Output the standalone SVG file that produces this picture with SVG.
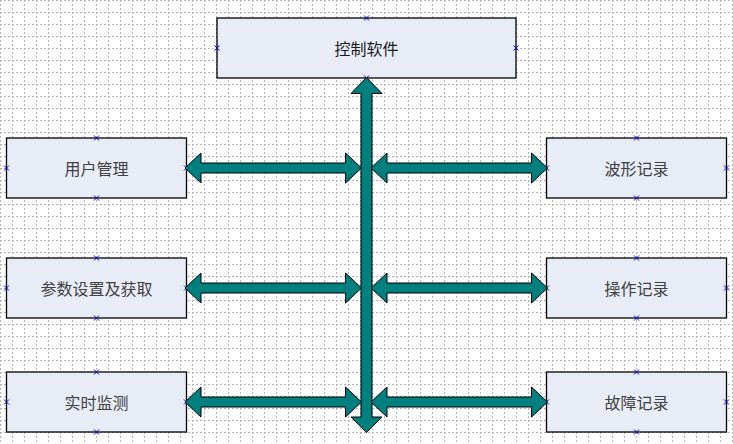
<svg xmlns="http://www.w3.org/2000/svg" xmlns:xlink="http://www.w3.org/1999/xlink" width="733" height="444" viewBox="0 0 733 444">
<style>
.box{fill:#E8ECF7;stroke:#000;stroke-width:1.3}
.lbl{font-family:"Noto Sans CJK SC","Noto Sans",sans-serif;font-size:16px;fill:#404040;text-anchor:middle;dominant-baseline:central}
.top{fill:#1a1a1a}
.arr{fill:#007F7F;stroke:#000;stroke-width:1}
.mk{stroke:#0000E0;stroke-width:1;fill:none}
</style>
<defs>
<pattern id="grid" x="0" y="0" width="12" height="12" patternUnits="userSpaceOnUse">
<line x1="0.5" y1="0" x2="0.5" y2="12" stroke="#b4b4b4" stroke-width="1" stroke-dasharray="2 2"/>
<line x1="0" y1="0.5" x2="12" y2="0.5" stroke="#b4b4b4" stroke-width="1" stroke-dasharray="2 2"/>
</pattern>
<path id="harr" d="M0,0 L16,-15 L16,-5 L160.5,-5 L160.5,-15 L176.5,0 L160.5,15 L160.5,5 L16,5 L16,15 Z"/>
<path id="x" d="M-2.5,-2.5 L2.5,2.5 M-2.5,2.5 L2.5,-2.5"/>
</defs>
<rect width="733" height="444" fill="#fff"/>
<rect width="733" height="444" fill="url(#grid)"/>

<g id="n-control">
<rect class="box" x="217" y="18" width="299" height="60"/>
<text class="lbl top" x="366.5" y="48">控制软件</text>
<use href="#x" class="mk" x="366.5" y="18"/><use href="#x" class="mk" x="217" y="48"/><use href="#x" class="mk" x="516" y="48"/><use href="#x" class="mk" x="366.5" y="78"/>
</g>

<g id="n-user">
<rect class="box" x="6.5" y="138" width="180" height="60"/>
<text class="lbl" x="96.5" y="168">用户管理</text>
<use href="#x" class="mk" x="96.5" y="138"/><use href="#x" class="mk" x="6.5" y="168"/><use href="#x" class="mk" x="186.5" y="168"/><use href="#x" class="mk" x="96.5" y="198"/>
</g>
<g id="n-param">
<rect class="box" x="6.5" y="258" width="180" height="60"/>
<text class="lbl" x="96.5" y="288">参数设置及获取</text>
<use href="#x" class="mk" x="96.5" y="258"/><use href="#x" class="mk" x="6.5" y="288"/><use href="#x" class="mk" x="186.5" y="288"/><use href="#x" class="mk" x="96.5" y="318"/>
</g>
<g id="n-monitor">
<rect class="box" x="6.5" y="372" width="180" height="60"/>
<text class="lbl" x="96.5" y="402">实时监测</text>
<use href="#x" class="mk" x="96.5" y="372"/><use href="#x" class="mk" x="6.5" y="402"/><use href="#x" class="mk" x="186.5" y="402"/><use href="#x" class="mk" x="96.5" y="432"/>
</g>
<g id="n-wave">
<rect class="box" x="546.5" y="138" width="180" height="60"/>
<text class="lbl" x="636.5" y="168">波形记录</text>
<use href="#x" class="mk" x="636.5" y="138"/><use href="#x" class="mk" x="546.5" y="168"/><use href="#x" class="mk" x="726.5" y="168"/><use href="#x" class="mk" x="636.5" y="198"/>
</g>
<g id="n-op">
<rect class="box" x="546.5" y="258" width="180" height="60"/>
<text class="lbl" x="636.5" y="288">操作记录</text>
<use href="#x" class="mk" x="636.5" y="258"/><use href="#x" class="mk" x="546.5" y="288"/><use href="#x" class="mk" x="726.5" y="288"/><use href="#x" class="mk" x="636.5" y="318"/>
</g>
<g id="n-fault">
<rect class="box" x="546.5" y="372" width="180" height="60"/>
<text class="lbl" x="636.5" y="402">故障记录</text>
<use href="#x" class="mk" x="636.5" y="372"/><use href="#x" class="mk" x="546.5" y="402"/><use href="#x" class="mk" x="726.5" y="402"/><use href="#x" class="mk" x="636.5" y="432"/>
</g>

<g id="connectors">
<path class="arr" d="M366.5,77.5 L382,93.5 L372,93.5 L372,417 L382,417 L366.5,432.5 L351,417 L361,417 L361,93.5 L351,93.5 Z"/>
<use href="#harr" class="arr" x="185" y="168"/>
<use href="#harr" class="arr" x="371" y="168"/>
<use href="#harr" class="arr" x="185" y="288"/>
<use href="#harr" class="arr" x="371" y="288"/>
<use href="#harr" class="arr" x="185" y="402"/>
<use href="#harr" class="arr" x="371" y="402"/>
</g>
</svg>
